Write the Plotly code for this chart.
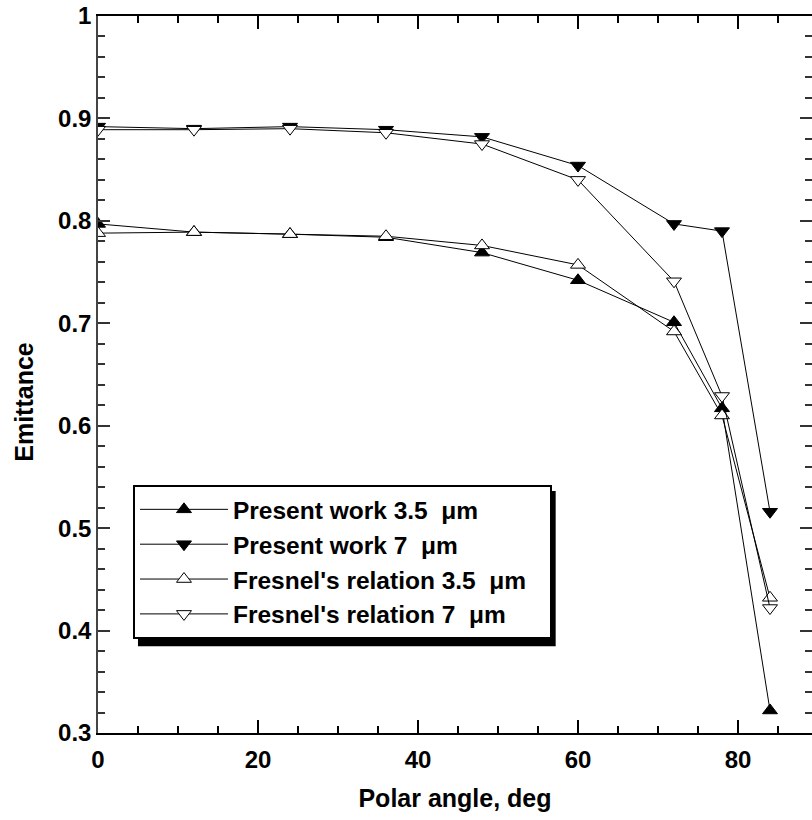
import plotly.graph_objects as go

angles = [0, 12, 24, 36, 48, 60, 72, 78, 84]
present_35 = [0.797, 0.789, 0.787, 0.784, 0.769, 0.742, 0.701, 0.617, 0.322]
present_7 = [0.892, 0.890, 0.892, 0.889, 0.882, 0.854, 0.797, 0.790, 0.516]
fresnel_35 = [0.788, 0.789, 0.787, 0.785, 0.776, 0.757, 0.692, 0.610, 0.432]
fresnel_7 = [0.889, 0.889, 0.890, 0.886, 0.875, 0.840, 0.741, 0.629, 0.422]

names = ["Present work 3.5 \u00a0\u03bcm", "Present work 7 \u00a0\u03bcm",
         "Fresnel's relation 3.5 \u00a0\u03bcm\u2002\u2005", "Fresnel's relation 7 \u00a0\u03bcm"]

FONT = "Liberation Sans, Arial, sans-serif"

fig = go.Figure()
series = [
    (present_35, names[0], "triangle-up", "black"),
    (present_7, names[1], "triangle-down", "black"),
    (fresnel_35, names[2], "triangle-up", "white"),
    (fresnel_7, names[3], "triangle-down", "white"),
]
for ys, nm, sym, fill in series:
    fig.add_trace(go.Scatter(
        x=angles, y=ys, name=nm, mode="lines+markers",
        line=dict(color="black", width=1),
        marker=dict(symbol=sym, size=13, color=fill, line=dict(color="black", width=1)),
    ))

# legend shadow
fig.add_shape(type="rect", xref="paper", yref="paper",
              x0=0.056, x1=0.641, y0=0.121, y1=0.3375,
              fillcolor="black", line=dict(width=0), layer="above")

fig.add_annotation(text="Emittance", xref="paper", yref="paper",
                   x=-0.1036, y=0.462, xanchor="center", yanchor="middle",
                   textangle=-90, showarrow=False,
                   font=dict(family=FONT, size=25, weight="bold"))

fig.update_layout(
    width=812, height=820,
    margin=dict(l=98, r=0, t=16, b=87, autoexpand=False),
    paper_bgcolor="white", plot_bgcolor="white",
    font=dict(family=FONT, size=24, color="black", weight="bold"),
    showlegend=True,
    legend=dict(x=0.049, y=0.346, xanchor="left", yanchor="top",
                bgcolor="white", bordercolor="black", borderwidth=2,
                font=dict(family=FONT, size=24.5, weight="bold"),
                itemwidth=88, traceorder="normal"),
    xaxis=dict(range=[0, 89.25], tick0=0, dtick=20, ticks="inside", ticklen=13,
               tickwidth=1.5, tickcolor="black", showline=True, linecolor="black",
               linewidth=1.5, mirror="allticks", showgrid=False, zeroline=False,
               ticklabelstandoff=4,
               minor=dict(ticks="inside", dtick=5, ticklen=7, tickwidth=1.5,
                          tickcolor="black", showgrid=False),
               title=dict(text="Polar angle, deg", standoff=18,
                          font=dict(family=FONT, size=25, weight="bold"))),
    yaxis=dict(range=[0.3, 1.0], tick0=0.3, dtick=0.1, ticks="inside", ticklen=12,
               tickwidth=1.5, tickcolor="#333", showline=True, linecolor="#444",
               linewidth=1.5, mirror="allticks", showgrid=False, zeroline=False,
               tickformat="~g",
               minor=dict(ticks="inside", dtick=0.02, ticklen=7, tickwidth=1.5,
                          tickcolor="#333", showgrid=False)),
)

fig.write_html("out.html")
